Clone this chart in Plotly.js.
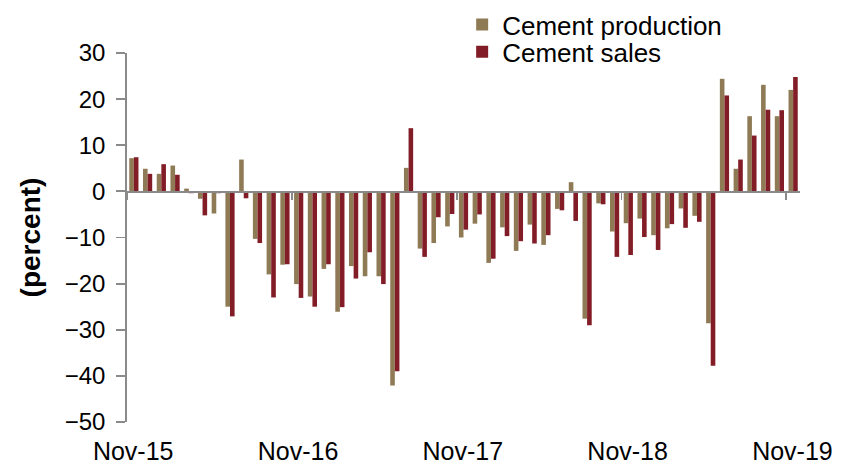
<!DOCTYPE html>
<html>
<head>
<meta charset="utf-8">
<script src="https://cdn.plot.ly/plotly-3.0.1.min.js"></script>
<style>html,body{margin:0;padding:0;background:#fff;}#chart{width:845px;height:465px;}</style>
</head>
<body>
<div id="chart"></div>
<script>
// Monthly categories: Nov-15 .. Nov-19 (49 months)
var monthNames = ["Jan","Feb","Mar","Apr","May","Jun","Jul","Aug","Sep","Oct","Nov","Dec"];
var months = [];
for (var i = 0; i < 49; i++) {
  var m = (10 + i) % 12;
  var y = 15 + Math.floor((10 + i) / 12);
  months.push(monthNames[m] + "-" + y);
}

var production = [7.2,4.9,3.8,5.6,0.6,-1.6,-4.8,-25.0,6.9,-10.3,-18.0,-15.9,
  -20.1,-22.8,-16.8,-26.1,-16.2,-18.4,-18.4,-42.1,5.1,-12.4,-11.2,-7.6,
  -10.0,-7.0,-15.5,-7.8,-12.9,-7.2,-11.6,-3.8,2.0,-27.6,-2.6,-8.7,
  -6.9,-5.9,-9.5,-8.0,-3.7,-5.3,-28.6,24.4,4.9,16.3,23.1,16.3,22.0];

var sales = [7.4,3.8,5.9,3.6,-0.4,-5.2,-0.4,-27.1,-1.5,-11.2,-23.0,-15.8,
  -23.1,-25.0,-15.8,-25.1,-18.9,-13.2,-20.1,-39.0,13.7,-14.2,-5.6,-4.9,
  -8.3,-5.0,-14.6,-9.7,-10.8,-11.3,-9.5,-4.1,-6.4,-29.0,-2.8,-14.2,
  -13.8,-9.9,-12.7,-7.1,-7.9,-6.6,-37.8,20.8,6.9,12.1,17.7,17.6,24.8];

var tickLabels = ["Nov-15","Nov-16","Nov-17","Nov-18","Nov-19"];

var xIdx = months.map(function(_, i){ return i; });
var labelPos = [], boundaryPos = [];
tickLabels.forEach(function(t){
  var k = months.indexOf(t);
  labelPos.push(k - 0.05);
  boundaryPos.push(k - 0.5);
});

var font = "Liberation Sans, Arial, sans-serif";
var axisGray = "#8a8a8a";

var traces = [
  {type:"bar", name:"Cement production", x:xIdx, y:production,
   marker:{color:"#8f7a56", line:{width:0}}, hoverinfo:"y", legend:"legend"},
  {type:"bar", name:"Cement sales", x:xIdx, y:sales,
   marker:{color:"#821c26", line:{width:0}}, hoverinfo:"y", legend:"legend2"},
  // invisible helper so the zero-line axis (x2) is instantiated
  {type:"scatter", mode:"none", x:xIdx, y:production, xaxis:"x2", yaxis:"y",
   showlegend:false, hoverinfo:"skip"}
];

var legendCommon = {xanchor:"left", yanchor:"middle", font:{size:26, family:font},
                    bgcolor:"rgba(0,0,0,0)", borderwidth:0};

var layout = {
  width:845, height:465,
  margin:{l:127, r:45, t:53, b:43, autoexpand:false},
  paper_bgcolor:"#fff", plot_bgcolor:"#fff",
  font:{family:font, color:"#000", size:24},
  barmode:"group", bargap:0.33, bargroupgap:0,
  showlegend:true,
  legend:Object.assign({x:0.498, y:1.077}, legendCommon),
  legend2:Object.assign({x:0.498, y:1.003}, legendCommon),
  xaxis:{range:[-0.5,48.5], tickmode:"array", tickvals:labelPos, ticktext:tickLabels,
         showline:false, ticks:"", showgrid:false, zeroline:false,
         tickfont:{size:25}, ticklabelstandoff:12, fixedrange:true},
  xaxis2:{overlaying:"x", anchor:"free", position:0.625, range:[-0.5,48.5],
          tickmode:"array", tickvals:boundaryPos, showticklabels:false,
          showline:true, linecolor:axisGray, linewidth:1.8,
          ticks:"outside", ticklen:7, tickcolor:axisGray, tickwidth:1.8,
          showgrid:false, zeroline:false, layer:"above traces"},
  yaxis:{range:[-50,30], dtick:10, tick0:0, showline:true, linecolor:axisGray, linewidth:1.8,
         ticks:"outside", ticklen:9, tickcolor:axisGray, tickwidth:1.8,
         showgrid:false, zeroline:false, tickfont:{size:24}, ticklabelstandoff:6,
         title:{text:"(percent)", font:{size:28, weight:"bold"}, standoff:16}}
};

Plotly.newPlot("chart", traces, layout, {displayModeBar:false, staticPlot:true});
</script>
</body>
</html>
